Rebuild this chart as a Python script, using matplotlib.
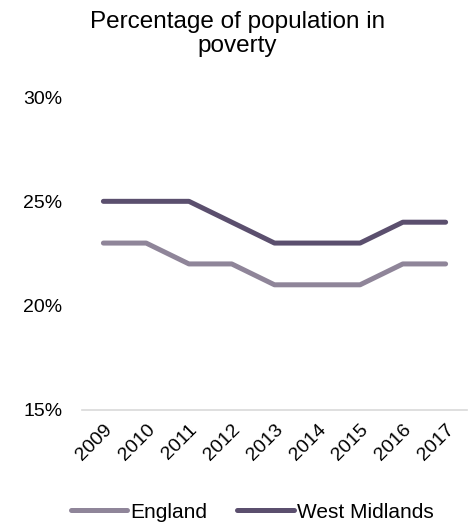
import matplotlib
matplotlib.use('Agg')
import matplotlib.pyplot as plt
from matplotlib.ticker import FuncFormatter

years = ['2009', '2010', '2011', '2012', '2013', '2014', '2015', '2016', '2017']
england = [23, 23, 22, 22, 21, 21, 21, 22, 22]
west_midlands = [25, 25, 25, 24, 23, 23, 23, 24, 24]

plt.rcParams['font.family'] = ['Liberation Sans', 'DejaVu Sans']

fig = plt.figure(figsize=(4.75, 5.24), dpi=100)
ax = fig.add_axes([82/475, 1 - 410/524, (467-82)/475, (410-97)/524])

x = range(len(years))
ax.plot(x, england, color='#8f8599', lw=3.6, solid_capstyle='round', label='England')
ax.plot(x, west_midlands, color='#5b4f6e', lw=3.6, solid_capstyle='round', label='West Midlands')

ax.set_xlim(-0.5, len(years) - 0.5)
ax.set_ylim(15, 30)
ax.set_yticks([15, 20, 25, 30])
ax.yaxis.set_major_formatter(FuncFormatter(lambda v, p: '%d%%' % v))
ax.set_xticks(list(x))
ax.set_xticklabels(years, rotation=45, ha='right', rotation_mode='anchor')

for s in ['top', 'right', 'left']:
	ax.spines[s].set_visible(False)
ax.spines['bottom'].set_color('#d9d9d9')
ax.spines['bottom'].set_linewidth(1.2)
ax.tick_params(axis='both', length=0, labelsize=14, colors='black')
ax.tick_params(axis='y', pad=14)
ax.tick_params(axis='x', pad=8)

fig.text(0.5, 1 - 34/524, 'Percentage of population in\npoverty', ha='center', va='center', fontsize=17.5, linespacing=1.1)

fig.legend(loc='center', bbox_to_anchor=(0.531, 1 - 512/524), ncol=2, frameon=False,
	fontsize=15, handlelength=2.7, handletextpad=0.15, columnspacing=1.45)

fig.savefig('out.png', dpi=100)
